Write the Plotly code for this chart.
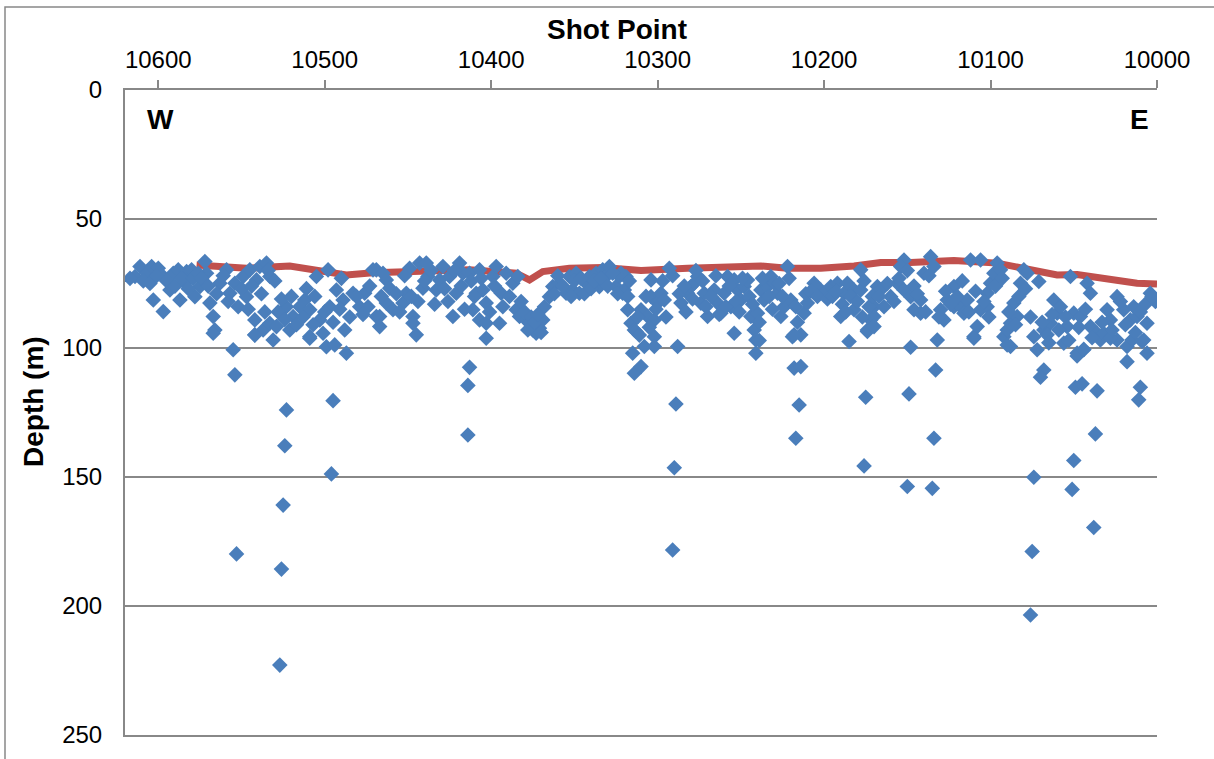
import plotly.graph_objects as go

# Blue diamond picks: shot point and depth (m)
shot_blue = [
    10614, 10611, 10607, 10604, 10600, 10597, 10603, 10597, 10593, 10591, 10588, 10587, 10583, 10584, 10580,
    10578, 10575, 10572, 10571, 10569, 10567, 10566, 10563, 10559, 10557, 10554, 10555, 10554, 10552, 10549,
    10547, 10545, 10542, 10541, 10542, 10539, 10535, 10533, 10537, 10533, 10531, 10529, 10523, 10521, 10519,
    10515, 10512, 10509, 10509, 10505, 10503, 10501, 10498, 10497, 10493, 10489, 10488, 10487, 10483, 10479,
    10476, 10474, 10471, 10469,
    10567, 10542, 10509, 10523, 10524, 10525, 10553, 10526, 10527, 10495, 10496, 10499, 10494,
    10469, 10463, 10461, 10463, 10459, 10467, 10467, 10453, 10451, 10449, 10447, 10447, 10445, 10443, 10441,
    10439, 10438, 10433, 10431, 10429, 10425, 10423, 10421, 10419, 10417, 10413, 10411, 10409, 10407, 10407,
    10405, 10403, 10403, 10403, 10399, 10397, 10395, 10394, 10391, 10387, 10385, 10384, 10383, 10379, 10377,
    10375, 10373, 10371, 10369, 10368, 10365, 10363, 10359, 10355, 10353, 10351, 10349, 10347, 10343, 10341,
    10337, 10335, 10333, 10331, 10329, 10325, 10323, 10321, 10319,
    10413, 10414, 10414,
    10322, 10320, 10318, 10316, 10314, 10315, 10314, 10310, 10310, 10308, 10306, 10304, 10304, 10302, 10302,
    10302, 10300, 10298, 10296, 10293, 10288, 10286, 10282, 10280, 10278, 10276, 10274, 10272, 10270, 10266,
    10264, 10262, 10260, 10258, 10256, 10254, 10254, 10252, 10250, 10248, 10246, 10244, 10242, 10241, 10241,
    10240, 10238, 10236, 10234, 10232, 10230, 10228, 10226, 10224, 10222, 10220, 10219, 10218, 10214, 10214,
    10212, 10210, 10206, 10202, 10200, 10196, 10192, 10190, 10188, 10186, 10185, 10182, 10182, 10178, 10178,
    10174, 10172, 10170, 10168,
    10289, 10290, 10291, 10313, 10239, 10218, 10215, 10217, 10174, 10175, 10176, 10148, 10149, 10150,
    10170, 10170, 10166, 10164, 10160, 10156, 10152, 10152, 10154, 10148, 10146, 10142, 10142, 10140, 10136,
    10134, 10132, 10133, 10130, 10128, 10126, 10122, 10122, 10118, 10116, 10114, 10112, 10110, 10108, 10106,
    10106, 10102, 10102, 10100, 10098, 10096, 10094, 10092, 10090, 10088, 10088, 10086, 10084, 10082, 10080,
    10078, 10074, 10072, 10071, 10068, 10068, 10064, 10062, 10060, 10058, 10056, 10054, 10052, 10050, 10048,
    10046, 10044, 10042, 10040, 10040, 10036, 10034, 10032, 10030, 10028, 10024, 10024, 10020, 10018, 10016,
    10014, 10012, 10008, 10006, 10006, 10004, 10001,
    10134, 10135, 10110, 10090, 10070, 10074, 10075, 10076, 10048, 10044, 10049, 10045, 10036, 10050, 10051,
    10037, 10038, 10018, 10015, 10009, 10010, 10011, 10066, 10028,
    # denser band picks
    10617, 10609, 10605, 10601, 10595, 10590, 10586, 10582, 10579, 10576,
    10574, 10570, 10565, 10561, 10558, 10550, 10546, 10544, 10538, 10536, 10534, 10530,
    10528, 10526, 10524, 10520, 10517, 10513, 10511, 10507, 10506, 10500, 10495, 10491,
    10490, 10485, 10481, 10477, 10473, 10466, 10465, 10457, 10455, 10452, 10448, 10444, 10440, 10436,
    10434, 10428, 10426, 10422, 10418, 10416, 10412, 10410, 10406, 10401, 10398, 10393,
    10389, 10382, 10380, 10378, 10376, 10374, 10372, 10370,
    10362, 10360, 10357, 10352, 10350, 10346, 10344, 10340, 10338, 10334, 10330, 10327, 10324,
    10318, 10317, 10312, 10311, 10307, 10305, 10301, 10297, 10295, 10291,
    10287, 10284, 10283, 10279, 10277, 10273, 10271, 10268, 10265, 10263, 10259, 10257, 10253, 10251,
    10249, 10245, 10243, 10239, 10237,
    10233, 10231, 10227, 10225, 10221, 10217, 10216, 10211, 10208, 10204, 10198, 10195, 10193, 10189,
    10187, 10184, 10180, 10177, 10176, 10173, 10171,
    10167, 10162, 10158, 10155, 10150, 10146, 10144, 10139, 10137, 10131, 10127, 10124, 10120, 10117,
    10113, 10109, 10104, 10101, 10097, 10093, 10089, 10085, 10083, 10079,
    10076, 10069, 10065, 10063, 10059, 10055, 10053, 10047, 10043, 10039, 10033, 10027, 10022, 10019,
    10013, 10010, 10007, 10003,
]
depth_blue = [
    72.3, 68.4, 71.0, 68.4, 69.1, 72.3, 81.4, 85.9, 77.5, 71.0, 69.7, 81.4, 70.4, 74.9, 69.7,
    80.1, 76.2, 66.5, 71.0, 82.6, 87.8, 93.0, 74.9, 69.7, 78.8, 74.9, 100.7, 110.4, 84.0, 72.3,
    80.1, 69.7, 89.1, 73.6, 94.9, 68.4, 67.1, 72.3, 93.0, 90.4, 96.9, 91.7, 84.0, 93.0, 87.8,
    84.0, 81.4, 85.2, 95.6, 72.3, 89.1, 94.3, 69.7, 84.0, 77.5, 81.4, 93.0, 102.0, 78.8, 84.0,
    78.8, 84.0, 69.7, 87.8,
    94.3, 95.0, 96.2, 124.0, 137.9, 160.9, 179.8, 185.7, 222.9, 120.4, 148.8, 99.5, 98.8,
    69.7, 73.6, 76.8, 82.6, 85.2, 87.8, 91.7, 82.6, 78.8, 69.1, 87.8, 90.4, 94.9, 67.1, 76.8,
    67.1, 72.3, 77.5, 73.6, 68.4, 72.3, 87.8, 78.8, 67.1, 71.0, 71.0, 85.2, 78.8, 89.1, 69.7,
    77.5, 82.6, 90.4, 96.2, 72.3, 68.4, 90.4, 78.8, 71.0, 74.9, 85.2, 72.3, 87.8, 89.1, 90.4,
    93.0, 94.3, 92.3, 89.1, 84.0, 80.1, 76.2, 74.9, 78.8, 72.3, 77.5, 71.0, 78.8, 74.9, 72.3,
    71.0, 76.2, 69.7, 72.3, 68.4, 76.2, 72.3, 78.8, 72.3,
    107.5, 114.5, 133.7,
    71.0, 77.5, 85.2, 90.4, 93.0, 102.0, 109.8, 107.2, 85.2, 99.4, 87.8, 73.6, 80.1, 89.1, 95.6,
    99.4, 82.6, 78.8, 81.4, 69.1, 99.4, 82.6, 78.8, 76.2, 74.9, 72.3, 82.6, 78.8, 87.8, 77.5,
    82.6, 86.5, 78.8, 72.3, 84.0, 94.3, 73.6, 77.5, 81.4, 76.2, 73.6, 87.8, 93.0, 96.9, 102.0,
    86.5, 77.5, 81.4, 76.2, 72.3, 74.9, 78.8, 87.8, 84.0, 68.4, 81.4, 95.6, 107.8, 94.9, 107.2,
    86.5, 82.6, 74.9, 77.5, 78.8, 76.2, 74.9, 87.8, 78.8, 74.9, 97.5, 77.5, 85.2, 69.7, 77.5,
    93.0, 89.1, 84.0, 76.2,
    121.7, 146.4, 178.3, 93.6, 97.1, 94.9, 122.1, 135.0, 93.6, 119.1, 145.7, 99.7, 117.8, 153.7,
    87.8, 91.7, 77.5, 84.0, 80.1, 74.9, 65.9, 77.5, 68.4, 80.1, 85.2, 81.4, 86.5, 71.0, 64.6,
    68.4, 96.9, 108.5, 85.2, 89.1, 81.4, 76.2, 84.0, 84.0, 86.5, 81.4, 65.9, 95.6, 91.7, 65.9,
    85.2, 84.0, 78.8, 74.9, 71.0, 67.1, 69.7, 95.6, 93.0, 90.4, 99.4, 82.6, 87.8, 74.9, 69.7,
    71.0, 95.6, 100.7, 74.2, 108.5, 93.0, 90.4, 81.4, 86.5, 84.0, 98.1, 91.7, 72.3, 86.5, 102.0,
    87.8, 100.7, 74.9, 78.8, 91.7, 94.3, 96.9, 94.3, 85.2, 89.1, 80.1, 96.9, 85.2, 99.4, 89.1,
    84.0, 87.8, 96.9, 90.4, 102.0, 78.8, 82.0,
    135.0, 154.4, 96.2, 98.8, 111.3, 150.1, 178.9, 203.5, 103.1, 100.5, 115.2, 113.9, 116.6, 143.6, 154.8,
    133.3, 169.6, 105.3, 96.9, 97.5, 115.2, 120.1, 94.9, 96.2,
    # denser band picks
    73, 74, 75, 72, 74, 76, 73, 77, 73, 71,
    73, 76, 79, 72, 82, 77, 85, 76, 79, 86, 70, 74,
    86, 81, 89, 80, 91, 88, 77, 91, 80, 86, 90, 85,
    73, 88, 80, 87, 76, 80, 71, 79, 86, 72, 80, 82, 74, 70,
    83, 77, 82, 70, 76, 85, 74, 80, 73, 86, 76, 84,
    80, 82, 86, 93, 88, 90, 87, 94,
    79, 72, 76, 80, 74, 73, 79, 77, 74, 73, 76, 71, 79,
    80, 74, 88, 95, 80, 92, 85, 74, 88, 72,
    79, 76, 86, 81, 70, 74, 84, 80, 72, 87, 84, 76, 82, 86,
    73, 80, 83, 90, 73,
    80, 85, 75, 80, 73, 84, 90, 79, 78, 80, 81, 80, 78, 83,
    86, 80, 82, 88, 74, 84, 80,
    80, 75, 82, 73, 70, 76, 79, 86, 72, 88, 78, 83, 80, 74,
    86, 78, 82, 88, 76, 73, 86, 91, 80, 77,
    88, 90, 98, 87, 93, 88, 97, 92, 85, 96, 90, 93, 82, 91,
    94, 86, 83, 80,
]

# Red series (seafloor)
shot_red = [10577, 10563, 10547, 10521, 10503, 10487, 10471, 10453, 10413, 10385, 10377, 10369, 10353,
            10333, 10317, 10310, 10282, 10238, 10222, 10202, 10182, 10166, 10148, 10122, 10096, 10086,
            10072, 10060, 10048, 10036, 10026, 10012, 10000]
depth_red = [67.8, 68.4, 69.1, 68.2, 70.4, 71.7, 70.8, 70.4, 69.7, 71.0, 73.6, 70.4, 69.1,
             68.8, 69.7, 70.0, 69.1, 68.2, 69.1, 69.1, 68.2, 66.9, 66.9, 66.1, 67.1, 68.4,
             70.4, 71.7, 71.5, 72.6, 73.6, 74.9, 75.2]

x_ticks = [10600, 10500, 10400, 10300, 10200, 10100, 10000]
y_ticks = [0, 50, 100, 150, 200, 250]

GRID = "#888888"
FONT = "Liberation Sans, Arial, sans-serif"

fig = go.Figure()
fig.add_trace(go.Scatter(x=shot_red, y=depth_red, mode="lines",
                         line=dict(color="#C0504D", width=7), showlegend=False, hoverinfo="skip"))
fig.add_trace(go.Scatter(x=shot_blue, y=depth_blue, mode="markers",
                         marker=dict(symbol="diamond", size=12, color="#4A7EBB", line=dict(width=0)),
                         showlegend=False))

fig.update_layout(
    width=1214, height=759,
    margin=dict(l=125, r=57, t=90, b=24),
    paper_bgcolor="white", plot_bgcolor="white",
    font=dict(family=FONT, size=24, color="black"),
    xaxis=dict(
        side="top", range=[10620, 10000], tickvals=x_ticks, ticktext=[str(v) for v in x_ticks],
        showgrid=False, zeroline=False, showline=True, linecolor=GRID, linewidth=2, mirror=True,
        ticks="outside", ticklen=8, tickwidth=1.5, tickcolor=GRID, ticklabelstandoff=2,
        tickfont=dict(size=24, family=FONT, color="black"),
    ),
    yaxis=dict(
        range=[250, 0], tickvals=y_ticks, ticktext=[str(v) for v in y_ticks],
        showgrid=True, gridcolor=GRID, gridwidth=2, zeroline=False,
        showline=True, linecolor=GRID, linewidth=2, ticks="", ticklabelstandoff=16,
        tickfont=dict(size=24, family=FONT, color="black"),
    ),
    annotations=[
        dict(text="<b>Shot Point</b>", xref="paper", yref="paper", x=(616.5 - 125) / 1032,
             y=(735 - 29) / 645, xanchor="center", yanchor="middle", showarrow=False,
             font=dict(size=28, family=FONT, color="black")),
        dict(text="<b>Depth (m)</b>", xref="paper", yref="paper", x=(33 - 125) / 1032,
             y=(735 - 402) / 645, xanchor="center", yanchor="middle", textangle=-90, showarrow=False,
             font=dict(size=28, family=FONT, color="black")),
        dict(text="<b>W</b>", xref="paper", yref="paper", x=(160 - 125) / 1032,
             y=(735 - 120) / 645, xanchor="center", yanchor="middle", showarrow=False,
             font=dict(size=28, family=FONT, color="black")),
        dict(text="<b>E</b>", xref="paper", yref="paper", x=(1139 - 125) / 1032,
             y=(735 - 120) / 645, xanchor="center", yanchor="middle", showarrow=False,
             font=dict(size=28, family=FONT, color="black")),
    ],
    shapes=[
        dict(type="rect", xref="paper", yref="paper",
             x0=(5 - 125) / 1032, x1=(1225 - 125) / 1032,
             y0=(735 - 770) / 645, y1=(735 - 7) / 645,
             line=dict(color=GRID, width=1.5), fillcolor="rgba(0,0,0,0)", layer="below"),
    ],
)

fig.write_html("out.html", config={"displayModeBar": False},
               post_script="document.body.style.margin='0';")
